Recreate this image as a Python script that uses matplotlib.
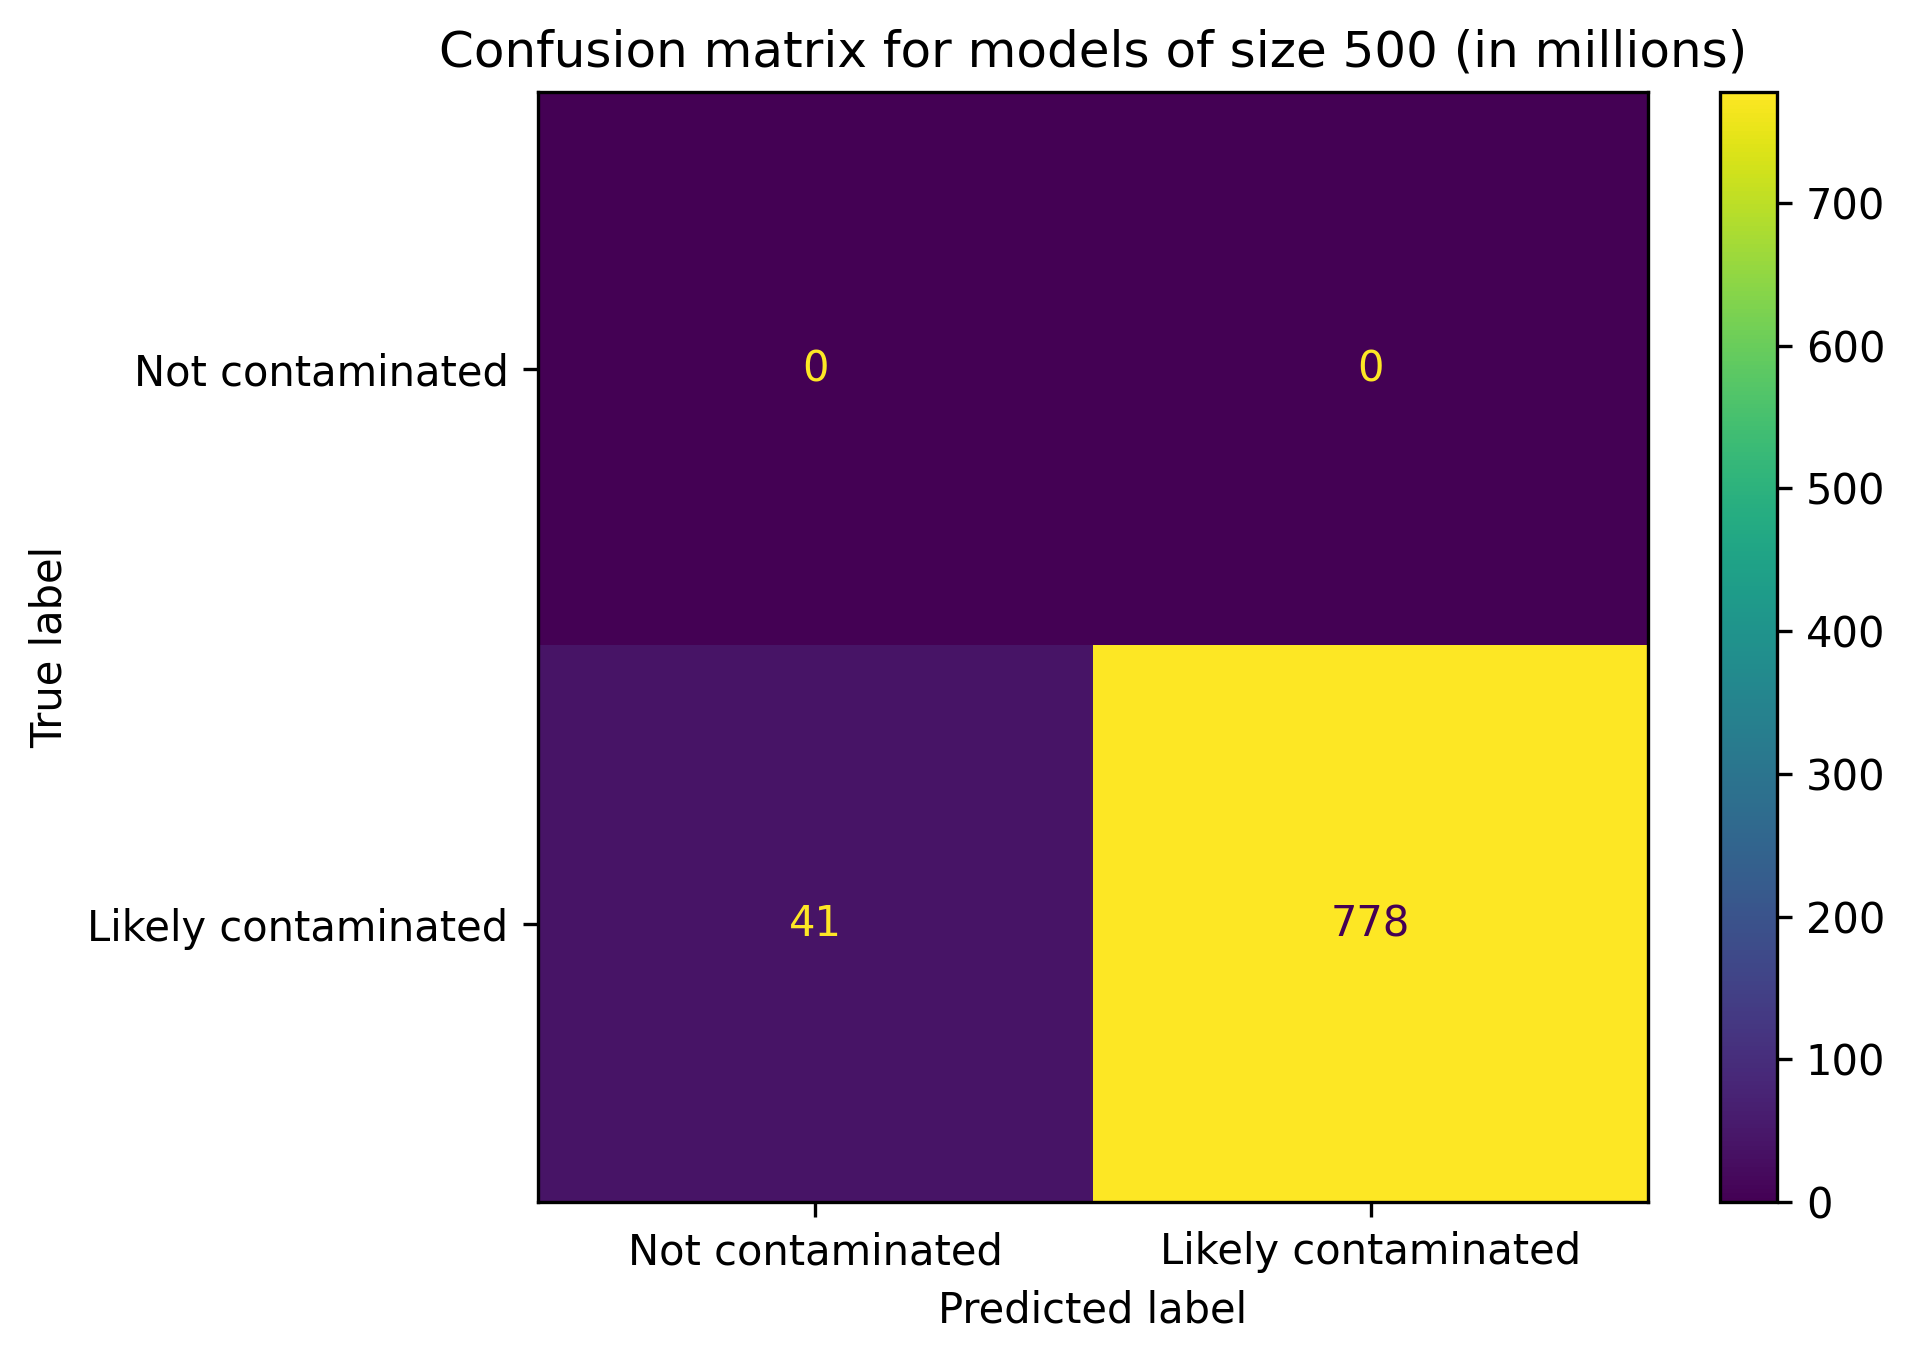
import numpy as np
import matplotlib
matplotlib.use("Agg")
import matplotlib.pyplot as plt

labels = ["Not contaminated", "Likely contaminated"]
cm = np.array([[0, 0],
               [41, 778]])
title = "Confusion matrix for models of size 500 (in millions)"

W, H = 1916, 1361
# layout measured on a scaled view of the reference
VW, VH = 1568.0, 1113.0
fig = plt.figure(figsize=(W / 300, H / 300), dpi=300)
ax = fig.add_axes([440 / VW, 1 - 983 / VH, (1349 - 440) / VW, (983 - 75) / VH])
cax = fig.add_axes([1408 / VW, 1 - 983 / VH, (1454 - 1408) / VW, (983 - 75) / VH])

cmap = plt.get_cmap("viridis")
im = ax.imshow(cm, interpolation="nearest", cmap=cmap, aspect="auto")
fig.colorbar(im, cax=cax)

thresh = (cm.max() + cm.min()) / 2.0
for i in range(cm.shape[0]):
    for j in range(cm.shape[1]):
        color = cmap(0) if cm[i, j] >= thresh else cmap(1.0)
        ax.text(j, i, format(cm[i, j], "d"), ha="center", va="center", color=color)

ax.set_xticks(range(len(labels)))
ax.set_xticklabels(labels)
ax.set_yticks(range(len(labels)))
ax.set_yticklabels(labels)
ax.set_xlabel("Predicted label")
ax.set_ylabel("True label")
ax.set_title(title)
ax.set_ylim(len(labels) - 0.5, -0.5)

fig.savefig("out.png", dpi=300)
